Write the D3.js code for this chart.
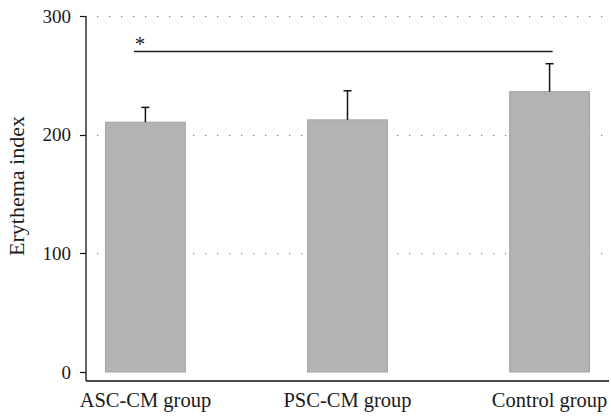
<!DOCTYPE html>
<html>
<head>
<meta charset="utf-8">
<script src="https://cdn.jsdelivr.net/npm/d3@7"></script>
<style>
  html, body { margin: 0; padding: 0; background: #fff; }
  svg { display: block; }
  text { font-family: "Liberation Serif", "DejaVu Serif", serif; fill: #1a1a1a; }
</style>
</head>
<body>
<div id="chart"></div>
<script>
// Erythema index by treatment group (mean + SD)
const groups = ["ASC-CM group", "PSC-CM group", "Control group"];
const means = [210.5, 212.5, 236.3];
const errors = [12.5, 24.5, 23.5];
const yTicks = [0, 100, 200, 300];
const gridTicks = [100, 200, 300];
const sigPair = ["ASC-CM group", "Control group"];
const sigValue = 270;
const sigLabel = "*";

const W = 611, H = 417;
const svg = d3.select("#chart").append("svg").attr("width", W).attr("height", H);

const axisX = 86, axisBottom = 381;
const x = d3.scaleBand().domain(groups).range([86, 609]).paddingInner(0.6).paddingOuter(0.094);
const y = d3.scaleLinear().domain([0, 300]).range([372, 16]);

// dotted horizontal grid
svg.append("g").selectAll("line").data(gridTicks).join("line")
  .attr("x1", axisX + 11).attr("x2", W)
  .attr("y1", d => Math.round(y(d)) + 0.5).attr("y2", d => Math.round(y(d)) + 0.5)
  .attr("stroke", "#777").attr("stroke-width", 1.2)
  .attr("stroke-dasharray", "1.2,10.8");

// bars
svg.append("g").selectAll("rect").data(groups).join("rect")
  .attr("x", d => x(d) + 0.5)
  .attr("y", (d, i) => y(means[i]))
  .attr("width", x.bandwidth() - 1)
  .attr("height", (d, i) => y(0) - y(means[i]))
  .attr("fill", "#b3b3b3").attr("stroke", "#a3a3a3").attr("stroke-width", 1);

// error bars (upper only)
const eb = svg.append("g").attr("stroke", "#111").attr("stroke-width", 1.5);
groups.forEach((g, i) => {
  const cx = x(g) + x.bandwidth() / 2;
  eb.append("line").attr("x1", cx).attr("x2", cx)
    .attr("y1", y(means[i])).attr("y2", y(means[i] + errors[i]));
  eb.append("line").attr("x1", cx - 4).attr("x2", cx + 4)
    .attr("y1", y(means[i] + errors[i])).attr("y2", y(means[i] + errors[i]));
});

// significance bracket
const sx1 = x(sigPair[0]) + 29, sx2 = x(sigPair[1]) + x.bandwidth() / 2 + 3;
svg.append("line").attr("x1", sx1).attr("x2", sx2)
  .attr("y1", y(sigValue)).attr("y2", y(sigValue))
  .attr("stroke", "#222").attr("stroke-width", 1.5);
svg.append("text").attr("x", sx1 + 6).attr("y", y(sigValue) - 1)
  .attr("text-anchor", "middle").attr("font-size", 21).text(sigLabel);

// y axis
const yAxis = svg.append("g").attr("transform", `translate(${axisX},0)`);
yAxis.append("line").attr("x1", 0).attr("x2", 0).attr("y1", 16).attr("y2", axisBottom)
  .attr("stroke", "#111").attr("stroke-width", 1.3);
yAxis.selectAll("line.tick").data(yTicks).join("line").attr("class", "tick")
  .attr("x1", -6).attr("x2", 0)
  .attr("y1", d => Math.round(y(d)) + 0.5).attr("y2", d => Math.round(y(d)) + 0.5)
  .attr("stroke", "#111").attr("stroke-width", 1.2);
yAxis.selectAll("text").data(yTicks).join("text")
  .attr("x", -15).attr("y", d => y(d)).attr("dy", "0.35em")
  .attr("text-anchor", "end").attr("font-size", 19).text(d => d);

// x axis
svg.append("line").attr("x1", axisX).attr("x2", 609)
  .attr("y1", axisBottom).attr("y2", axisBottom)
  .attr("stroke", "#111").attr("stroke-width", 1.3);
svg.append("g").selectAll("text").data(groups).join("text")
  .attr("x", d => x(d) + x.bandwidth() / 2).attr("y", 407)
  .attr("text-anchor", "middle").attr("font-size", 20.5).text(d => d);

// y axis title
svg.append("text")
  .attr("transform", `translate(24,186) rotate(-90)`)
  .attr("text-anchor", "middle").attr("font-size", 22).text("Erythema index");
</script>
</body>
</html>
